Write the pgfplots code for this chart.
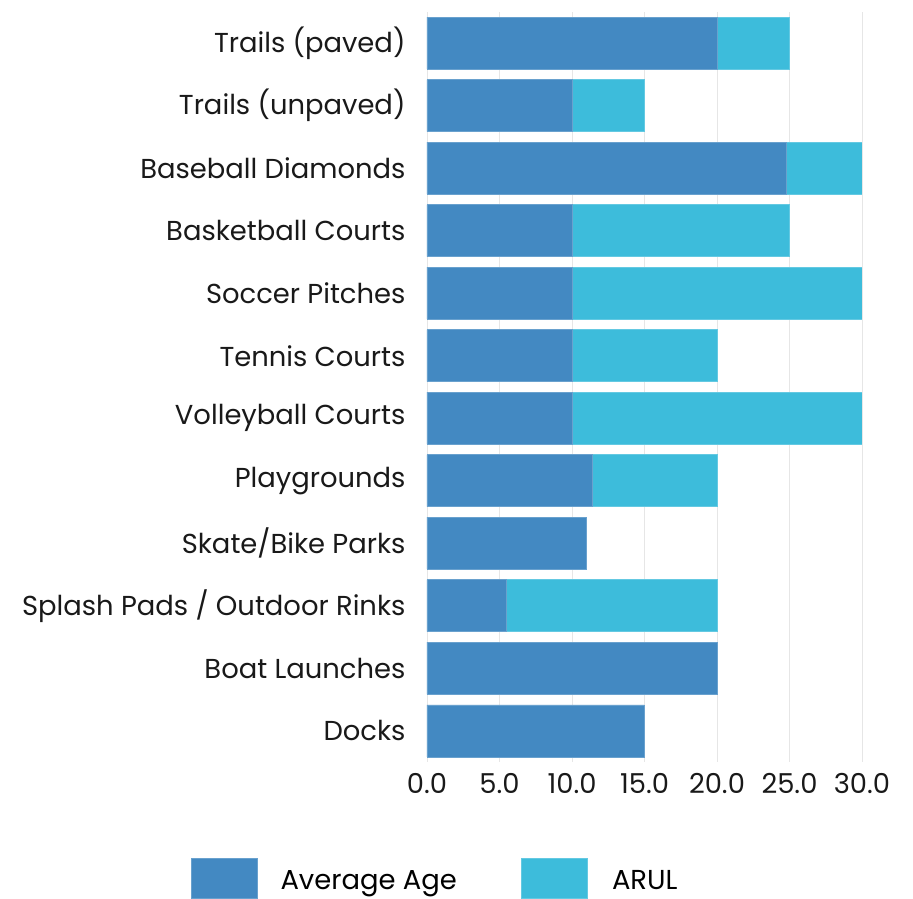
\documentclass[border=0pt]{standalone}
\usepackage{fontspec}
\setmainfont{Poppins}
\usepackage{pgfplots}
\pgfplotsset{compat=1.18}
\definecolor{ageblue}{HTML}{4389C2}
\definecolor{arulcyan}{HTML}{3DBCDB}
\definecolor{gridgray}{HTML}{E6E6E6}
\begin{document}
\begin{tikzpicture}
\path (-427bp,-137bp) rectangle (486bp,762bp);
\begin{axis}[
  at={(0,0)}, anchor=south west,
  scale only axis, width=435bp, height=750bp,
  xbar stacked, bar width=52bp,
  xmin=0, xmax=30, ymin=-0.5, ymax=11.5,
  xtick={0,5,...,30},
  xticklabel style={/pgf/number format/fixed, /pgf/number format/fixed zerofill, /pgf/number format/precision=1, yshift=-8bp},
  /pgf/number format/assume math mode=true,
  ytick={0,...,11},
  yticklabels={Docks,Boat Launches,Splash Pads / Outdoor Rinks,Skate/Bike Parks,Playgrounds,Volleyball Courts,Tennis Courts,Soccer Pitches,Basketball Courts,Baseball Diamonds,Trails (unpaved),Trails (paved)},
  tick label style={font=\fontsize{27.5}{30}\selectfont, text=black!90},
  yticklabel style={xshift=-18bp},
  major tick length=0pt,
  axis line style={draw=none},
  xmajorgrids, grid style={gridgray, line width=0.8bp},
  legend style={at={(-0.5425,-0.18133)}, anchor=south west, draw=none, legend columns=2,
    inner sep=0pt, outer sep=0pt, nodes={inner sep=0pt, text depth=0pt},
    font=\fontsize{27.5}{30}\selectfont, column sep=0pt},
  legend image code/.code={\fill[#1] (0bp,-18bp) rectangle (66bp,22bp);},
  legend cell align=left,
]
\addplot[fill=ageblue, draw=ageblue!80!white, line width=0.5bp] coordinates {
(15,0) (20,1) (5.5,2) (11,3) (11.4,4) (10,5) (10,6) (10,7) (10,8) (24.8,9) (10,10) (20,11)};
\addplot[fill=arulcyan, draw=arulcyan!80!white, line width=0.5bp] coordinates {
(0,0) (0,1) (14.5,2) (0,3) (8.6,4) (20,5) (10,6) (20,7) (15,8) (5.2,9) (5,10) (5,11)};
\legend{\hspace*{23bp}\makebox[240bp][l]{Average Age},\hspace*{25bp}ARUL}
\end{axis}
\end{tikzpicture}
\end{document}
